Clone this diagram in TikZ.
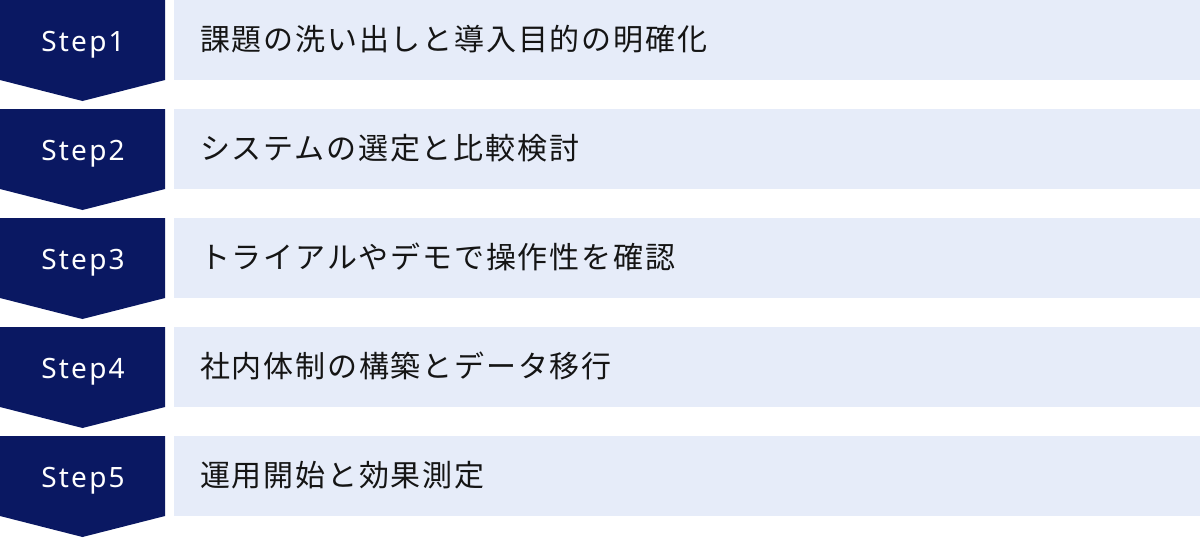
\documentclass[tikz,border=0pt]{standalone}
\usepackage{fontspec}
\setmainfont{Noto Sans}
\newfontfamily\stepfont[LetterSpace=8]{Noto Sans}
\newfontfamily\jp[LetterSpace=6]{Noto Sans CJK JP}
\definecolor{navy}{HTML}{0A1862}
\definecolor{pale}{HTML}{E6ECF9}
\definecolor{ink}{HTML}{151515}
\begin{document}
\begin{tikzpicture}[x=1pt,y=-1pt,
  chev/.style={fill=navy,draw=none},
  steplabel/.style={text=white,font=\stepfont\fontsize{28}{30}\selectfont,inner sep=0pt,anchor=base},
  panel/.style={fill=pale,draw=none,anchor=north west,minimum width=1026pt,minimum height=80pt,inner sep=0pt},
  paneltext/.style={text=ink,font=\jp\fontsize{30}{34}\selectfont,inner sep=0pt,anchor=base west}]
\useasboundingbox (0,0) rectangle (1200,538);
\foreach \i/\t in {1/課題の洗い出しと導入目的の明確化,2/システムの選定と比較検討,3/トライアルやデモで操作性を確認,4/社内体制の構築とデータ移行,5/運用開始と効果測定}{
  \pgfmathsetmacro{\r}{(\i-1)*109}
  \fill[chev] (0,\r) -- (165,\r) -- (165,\r+80) -- (82.5,\r+101) -- (0,\r+80) -- cycle;
  \node[steplabel] (s\i) at (83,\r+51.5) {Step\i};
  \node[panel] (b\i) at (174,\r) {};
  \node[paneltext] (t\i) at (200,\r+50) {\t};
}
\end{tikzpicture}
\end{document}
